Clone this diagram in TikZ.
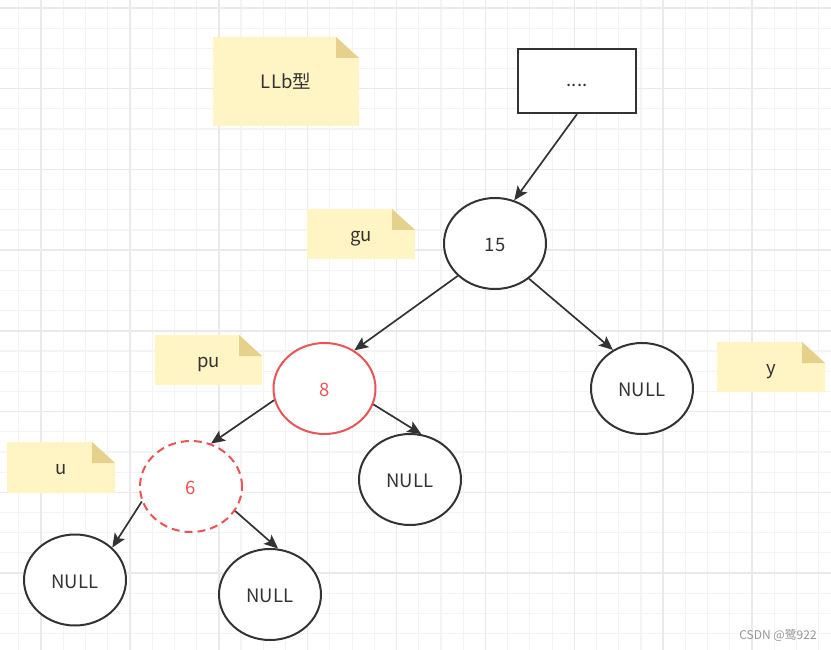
\documentclass[tikz,border=0pt]{standalone}
\usepackage{fontspec}
\setmainfont{Noto Sans CJK SC}
\usetikzlibrary{shapes.geometric,arrows.meta}
\definecolor{ink}{RGB}{51,51,51}
\definecolor{redc}{RGB}{234,84,85}
\definecolor{notey}{RGB}{255,244,195}
\definecolor{notef}{RGB}{229,208,140}
\definecolor{gmin}{RGB}{244,244,244}
\definecolor{gmaj}{RGB}{234,234,234}
\definecolor{wm}{RGB}{150,150,150}
\tikzset{
  treenode/.style={ellipse, draw=ink, line width=2pt, minimum width=102pt, minimum height=91pt,
    inner sep=0pt, fill=white, text=ink, font=\fontsize{18.5}{22}\selectfont,
    text height=16pt, text depth=0pt},
  rednode/.style={treenode, draw=redc, text=redc},
  dashnode/.style={rednode, dash pattern=on 8pt off 5pt},
  arr/.style={draw=ink, line width=1.7pt, -{Stealth[length=14pt,width=12pt,inset=3pt]}},
  notetext/.style={text=ink, font=\fontsize{18.5}{22}\selectfont, inner sep=0pt,
    text height=14pt, text depth=0pt},
  boxnode/.style={draw=ink, line width=2.2pt, minimum width=118pt, minimum height=64pt,
    inner sep=0pt, fill=white, text=ink, font=\fontsize{18.5}{22}\selectfont,
    text height=12pt, text depth=0pt},
  minorline/.style={draw=gmin, line width=1.2pt},
  majorline/.style={draw=gmaj, line width=1.5pt},
}
\newcommand\stickynote[6]{%
  \fill[notey] (#2,#3) -- (#4-23,#3) -- (#4,#3+21) -- (#4,#5) -- (#2,#5) -- cycle;
  \fill[notef] (#4-23,#3) -- (#4-23,#3+21) -- (#4,#3+21) -- cycle;
  \node[notetext] (#1) at ({(#2+#4)/2},{(#3+#5)/2}) {#6};
}
\begin{document}
\begin{tikzpicture}[x=1pt,y=-1pt]
\fill[white] (0,0) rectangle (831,650);
\useasboundingbox (0,0) rectangle (831,650);
\begin{scope}
\clip (0,0) rectangle (831,650);
\foreach \k in {-1,...,36} {
  \pgfmathsetmacro\xx{41+22.222*\k}
  \draw[minorline] (\xx,0) -- (\xx,650);
}
\foreach \k in {0,...,32} {
  \pgfmathsetmacro\yy{8+20.18*\k}
  \draw[minorline] (0,\yy) -- (831,\yy);
}
\foreach \m in {0,...,9} {
  \pgfmathsetmacro\xx{41+88.889*\m}
  \draw[majorline] (\xx,0) -- (\xx,650);
}
\foreach \m in {0,...,8} {
  \pgfmathsetmacro\yy{8+80.72*\m}
  \draw[majorline] (0,\yy) -- (831,\yy);
}
\end{scope}

% notes
\stickynote{nLLb}{213}{37}{359}{126}{LLb型}
\stickynote{ngu}{307}{209}{415}{259}{gu}
\stickynote{npu}{155}{335}{262}{385}{pu}
\stickynote{nu}{7}{442}{115}{493}{u}
\stickynote{ny}{717}{342}{825}{392}{y}

% nodes
\node[boxnode] (top) at (577,81) {....};
\node[treenode] (n15) at (495,243.5) {15};
\node[rednode] (n8) at (324.5,388.5) {8};
\node[treenode] (nr) at (642,388.5) {NULL};
\node[dashnode] (n6) at (191,486.5) {6};
\node[treenode] (nm) at (410,479.5) {NULL};
\node[treenode] (nl) at (75,580) {NULL};
\node[treenode] (nb) at (270,594.5) {NULL};

% connectors
\draw[arr] (top.south) -- (n15.66);
\draw[arr] (n15.221) -- (n8.52);
\draw[arr] (n15.314) -- (nr.127);
\draw[arr] (n8.193) -- (n6.65);
\draw[arr] (n8.342) -- (nm.76);
\draw[arr] (n6.197) -- (nl.41);
\draw[arr] (n6.331) -- (nb.80);

\node[text=wm, font=\fontsize{12}{14}\selectfont, inner sep=0pt] (wmark) at (778,635) {CSDN @鹭922};
\end{tikzpicture}
\end{document}
